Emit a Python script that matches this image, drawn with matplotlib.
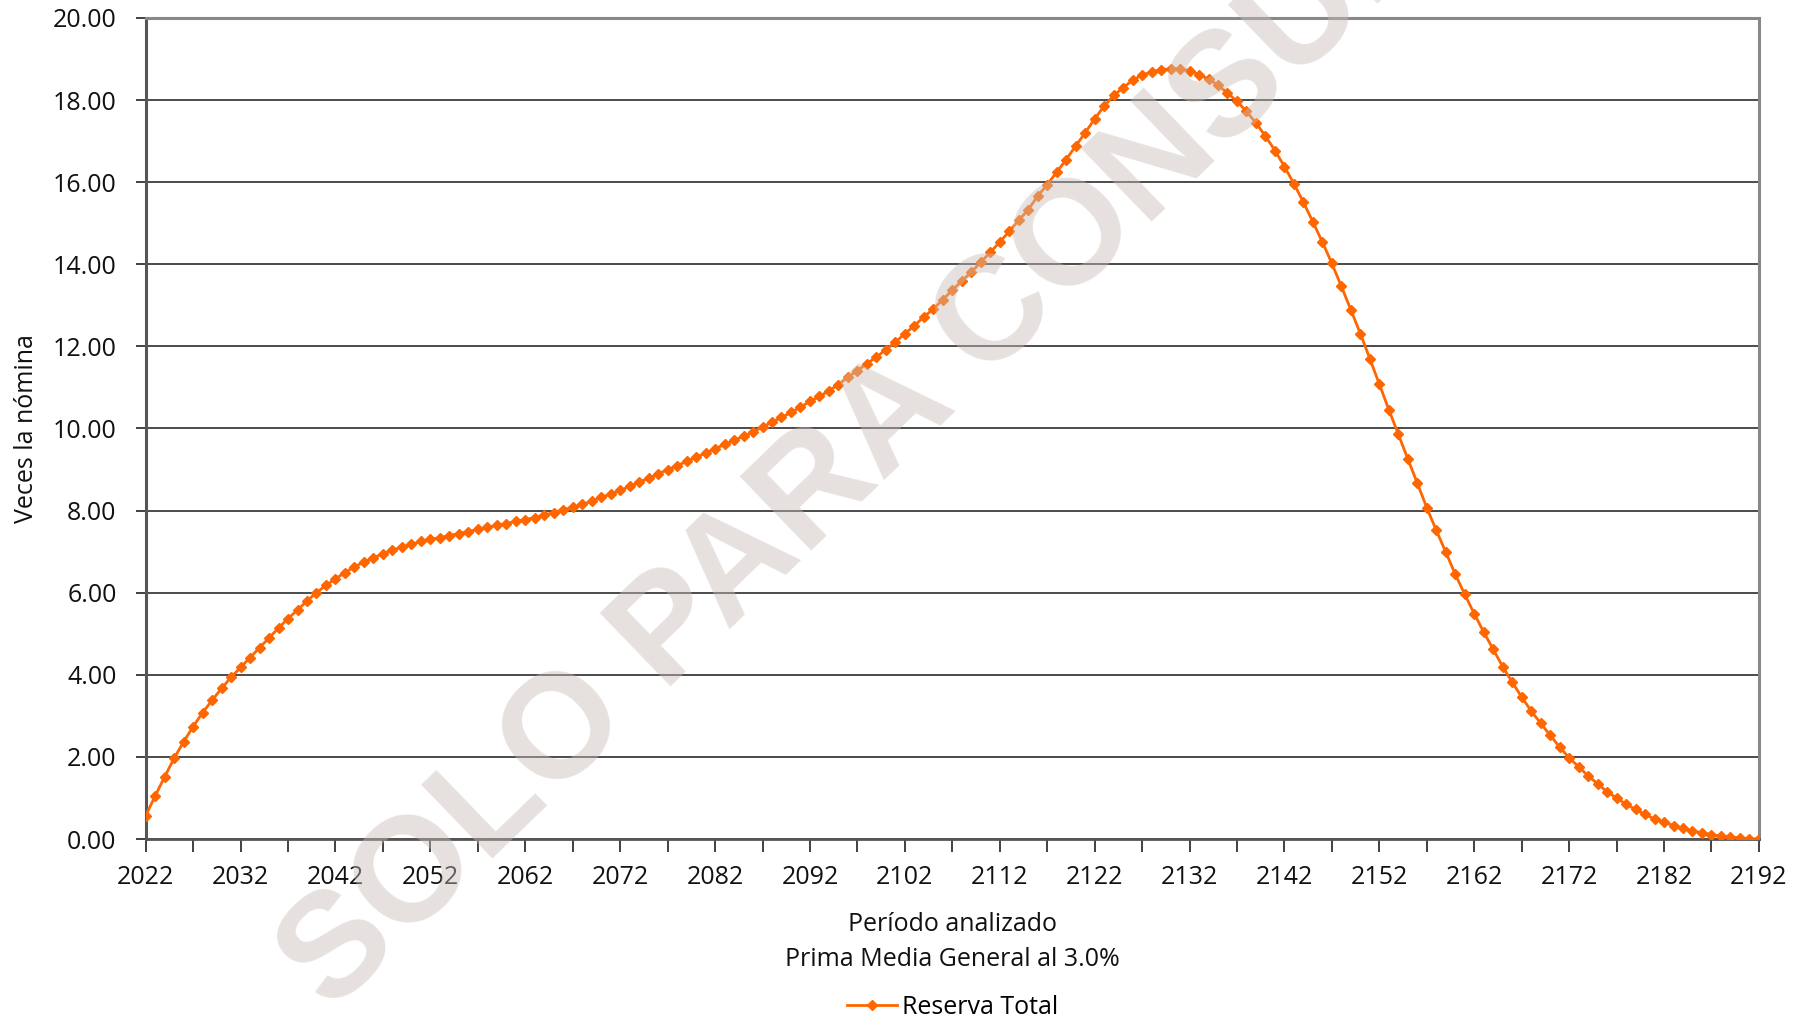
import numpy as np
import matplotlib
matplotlib.use("Agg")
import matplotlib.pyplot as plt
from matplotlib.ticker import FuncFormatter
from matplotlib.lines import Line2D

plt.rcParams['font.family'] = ['Open Sans', 'DejaVu Sans']

# Reserva Total (veces la nomina), 2022..2192
years = list(range(2022, 2193))
reserva = [
    0.57, 1.05, 1.52, 1.97, 2.37, 2.74, 3.08, 3.38, 3.67, 3.94,       # 2022-2031
    4.18, 4.42, 4.66, 4.90, 5.14, 5.37, 5.58, 5.80, 6.00, 6.18,       # 2032-2041
    6.34, 6.49, 6.63, 6.75, 6.85, 6.95, 7.04, 7.11, 7.18, 7.25,       # 2042-2051
    7.30, 7.34, 7.39, 7.44, 7.49, 7.54, 7.59, 7.64, 7.68, 7.74,       # 2052-2061
    7.78, 7.83, 7.89, 7.95, 8.02, 8.08, 8.15, 8.23, 8.32, 8.40,       # 2062-2071
    8.49, 8.59, 8.69, 8.79, 8.89, 9.00, 9.09, 9.20, 9.30, 9.40,       # 2072-2081
    9.51, 9.61, 9.71, 9.81, 9.91, 10.04, 10.15, 10.27, 10.39, 10.52,  # 2082-2091
    10.66, 10.78, 10.92, 11.07, 11.25, 11.41, 11.58, 11.74, 11.92, 12.10,  # 2092-2101
    12.31, 12.50, 12.72, 12.91, 13.14, 13.37, 13.59, 13.81, 14.05, 14.29,  # 2102-2111
    14.54, 14.80, 15.07, 15.33, 15.66, 15.94, 16.24, 16.55, 16.88, 17.20,  # 2112-2121
    17.54, 17.85, 18.11, 18.30, 18.48, 18.61, 18.68, 18.74, 18.76, 18.76,  # 2122-2131
    18.71, 18.62, 18.51, 18.36, 18.17, 17.97, 17.72, 17.44, 17.12, 16.77,  # 2132-2141
    16.38, 15.96, 15.51, 15.03, 14.54, 14.02, 13.46, 12.89, 12.31, 11.70,  # 2142-2151
    11.08, 10.46, 9.86, 9.26, 8.67, 8.07, 7.52, 6.99, 6.45, 5.96,     # 2152-2161
    5.49, 5.04, 4.62, 4.20, 3.82, 3.46, 3.12, 2.82, 2.53, 2.24,       # 2162-2171
    1.98, 1.76, 1.54, 1.35, 1.15, 1.00, 0.85, 0.72, 0.60, 0.49,       # 2172-2181
    0.41, 0.33, 0.26, 0.20, 0.15, 0.11, 0.07, 0.05, 0.03, 0.01,       # 2182-2191
    0.00,                                                             # 2192
]

orange = '#FF6600'
fs = 18

fig = plt.figure(figsize=(18.12, 10.22), dpi=100)
ax = fig.add_axes([0.0804, 0.179, 0.8903, 0.8035])

ax.plot(years, reserva, color=orange, lw=2.0, marker='D', ms=4.8,
        markeredgecolor=orange, markerfacecolor=orange, zorder=3)

ax.set_xlim(2022, 2192)
ax.set_ylim(0, 20)
ax.set_yticks(np.arange(0, 21, 2))
ax.yaxis.set_major_formatter(FuncFormatter(lambda v, p: f'{v:.2f}'))
ax.set_xticks(range(2022, 2193, 5))
ax.set_xticklabels([str(y) if (y - 2022) % 10 == 0 else '' for y in range(2022, 2193, 5)])
ax.tick_params(axis='both', labelsize=fs, colors='#111111', direction='out')
ax.tick_params(axis='x', length=9, width=1.3, color='#333333', pad=10)
ax.tick_params(axis='y', length=7, width=1.3, color='#333333', pad=14)

ax.grid(axis='y', color='#1a1a1a', lw=1.1, zorder=1)
ax.set_axisbelow(True)
for side in ['top', 'right']:
    ax.spines[side].set_color('#888888')
    ax.spines[side].set_linewidth(2.2)
ax.spines['left'].set_color('#555555')
ax.spines['left'].set_linewidth(2.2)
ax.spines['bottom'].set_color('#555555')
ax.spines['bottom'].set_linewidth(2.0)

ax.set_ylabel('Veces la nómina', fontsize=fs, color='#111111')
ax.yaxis.set_label_coords(-0.066, 0.5)
fig.text(0.5255, 0.0955, 'Período analizado', ha='center', va='center', fontsize=fs, color='#111111')
fig.text(0.5255, 0.0615, 'Prima Media General al 3.0%', ha='center', va='center', fontsize=fs, color='#111111')

handle = Line2D([], [], color=orange, lw=2.0, marker='D', ms=4.8)
fig.legend([handle], ['Reserva Total'], loc='center', bbox_to_anchor=(0.5255, 0.014),
           frameon=False, fontsize=fs, handlelength=2.0, handletextpad=0.2)

# watermark
fig.text(0.508, 0.617, 'SOLO PARA CONSULTA', rotation=44, rotation_mode='anchor',
         ha='center', va='center', fontsize=107, fontweight='bold',
         family='Liberation Sans', color='#c8beb9', alpha=0.45, zorder=10)

fig.savefig('out.png', dpi=100)
